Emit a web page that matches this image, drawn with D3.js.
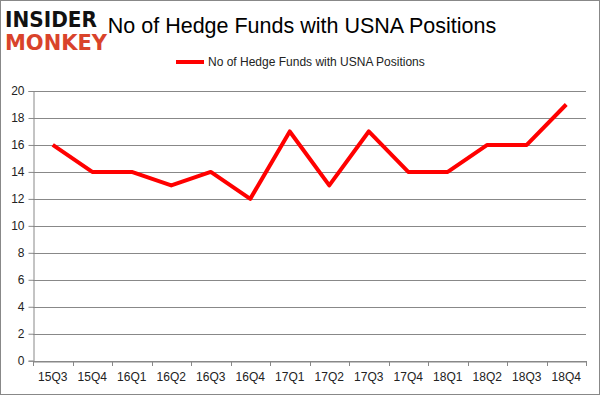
<!DOCTYPE html>
<html><head><meta charset="utf-8">
<script src="https://cdn.jsdelivr.net/npm/d3@7"></script>
<style>body{margin:0;background:#fff}svg{display:block}</style>
</head><body>
<script>
const categories = ["15Q3","15Q4","16Q1","16Q2","16Q3","16Q4","17Q1","17Q2","17Q3","17Q4","18Q1","18Q2","18Q3","18Q4"];
const values = [16,14,14,13,14,12,17,13,17,14,14,16,16,19];
const yTicks = [0,2,4,6,8,10,12,14,16,18,20];
const seriesName = "No of Hedge Funds with USNA Positions";
const titleText = "No of Hedge Funds with USNA Positions";

(function(){
const W = 601, H = 396;
const svg = d3.select("body").append("svg").attr("width", W).attr("height", H);
svg.append("rect").attr("x",0.5).attr("y",0.5).attr("width",W-2).attr("height",H-2)
  .attr("fill","#fff").attr("stroke","#888");

const pl = 33, pr = 586, pt = 91, pb = 360.7;
const x = d3.scaleBand().domain(categories).range([pl, pr]);
const y = d3.scaleLinear().domain([0,20]).range([pb, pt]);
const font = "'Liberation Sans', Arial, sans-serif";

svg.append("g").selectAll("line").data(yTicks).join("line")
  .attr("x1", pl).attr("x2", pr)
  .attr("y1", d => Math.round(y(d))+0.5).attr("y2", d => Math.round(y(d))+0.5)
  .attr("stroke","#888").attr("stroke-width",1);

const ya = svg.append("g").attr("transform",`translate(${pl+0.5},0)`)
  .call(d3.axisLeft(y).tickValues(yTicks).tickSize(5).tickPadding(4));
ya.select(".domain").attr("stroke","#888");
ya.selectAll(".tick line").attr("stroke","#888");
ya.selectAll(".tick text").attr("font-family",font).attr("font-size",12).attr("fill","#222");

const xa = svg.append("g").attr("transform",`translate(0,${Math.round(pb)+0.5})`)
  .call(d3.axisBottom(x).tickSize(0).tickPadding(11));
xa.select(".domain").attr("stroke","#888");
xa.selectAll(".tick text").attr("font-family",font).attr("font-size",12).attr("fill","#222");
svg.append("g").selectAll("line").data(d3.range(categories.length+1)).join("line")
  .attr("x1", i => Math.round(pl + i*x.step())+0.5).attr("x2", i => Math.round(pl + i*x.step())+0.5)
  .attr("y1", Math.round(pb)).attr("y2", Math.round(pb)+5)
  .attr("stroke","#888");

const line = d3.line().x((d,i) => x(categories[i]) + x.bandwidth()/2).y(d => y(d));
svg.append("path").datum(values).attr("d", line)
  .attr("fill","none").attr("stroke","#ff0000").attr("stroke-width",4).attr("stroke-linejoin","round");

svg.append("text").attr("x", 302).attr("y", 33).attr("text-anchor","middle")
  .attr("font-family",font).attr("font-size",21.5).attr("fill","#000").text(titleText);

svg.append("line").attr("x1",176).attr("x2",204).attr("y1",62).attr("y2",62)
  .attr("stroke","#ff0000").attr("stroke-width",4);
svg.append("text").attr("x",208).attr("y",66).attr("font-family",font).attr("font-size",12)
  .attr("fill","#222").text(seriesName);

svg.append("rect").attr("x",2).attr("y",4).attr("width",106).attr("height",48).attr("fill","#fff");
svg.append("text").attr("x",5).attr("y",27).attr("font-family","'DejaVu Sans', sans-serif")
  .attr("font-weight","bold").attr("font-size",22).attr("textLength",92).attr("lengthAdjust","spacingAndGlyphs")
  .attr("fill","#111").text("INSIDER");
svg.append("text").attr("x",5).attr("y",50).attr("font-family","'DejaVu Sans', sans-serif")
  .attr("font-weight","bold").attr("font-size",22).attr("textLength",102).attr("lengthAdjust","spacingAndGlyphs")
  .attr("fill","#d9432b").text("MONKEY");
})();
</script>
</body></html>
